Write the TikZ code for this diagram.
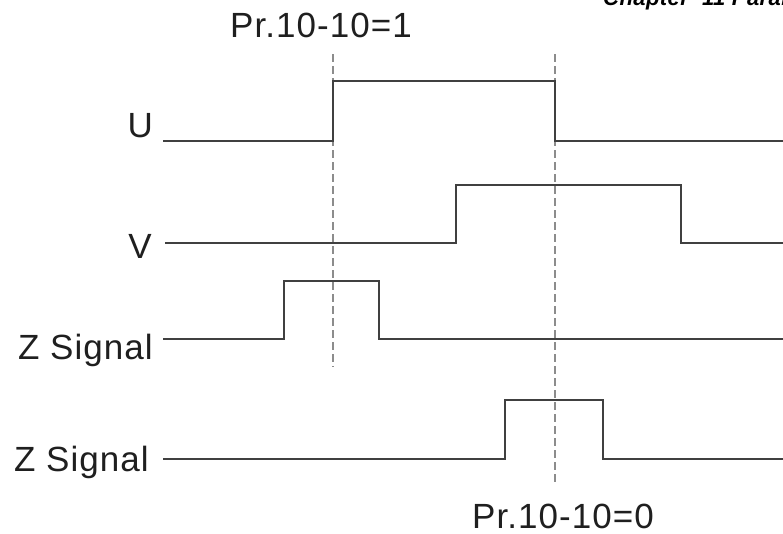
\documentclass[tikz,border=0pt]{standalone}
\usepackage{fontspec}
\setmainfont{Liberation Sans}
\newfontfamily\lblfont[LetterSpace=3]{Liberation Sans}
\newfontfamily\hdrfont[LetterSpace=2]{Liberation Sans}
\begin{document}
\begin{tikzpicture}[x=1pt,y=-1pt,
  lbl/.style={inner sep=0pt,font=\lblfont\fontsize{35}{40}\selectfont,text=black!88},
  wave/.style={draw=black!75,line width=1.4pt,line join=miter},
  guide/.style={draw=black!45,line width=1.3pt,dash pattern=on 8pt off 4pt}]
\useasboundingbox (0,0) rectangle (783,533);
\clip (0,0) rectangle (783,533);
% header (cut off at top)
\node[inner sep=0pt,anchor=base west,font=\hdrfont\bfseries\itshape\fontsize{22}{26}\selectfont] (hdr) at (603,5) {Chapter\ \ 11 Parameters};
% labels
\node[lbl,anchor=base east] (lu) at (153,137) {U};
\node[lbl,anchor=base east] (lv) at (152,258) {V};
\node[lbl,anchor=base east] (lz1) at (153,359) {Z Signal};
\node[lbl,anchor=base east] (lz2) at (149,471) {Z Signal};
\node[lbl,anchor=base west] (p1) at (230,37) {Pr.10-10=1};
\node[lbl,anchor=base west] (p0) at (472,528) {Pr.10-10=0};
% waveform coordinates
\coordinate (u0) at (163,141); \coordinate (u1) at (784,141);
\coordinate (v0) at (165,243); \coordinate (v1) at (784,243);
\coordinate (za0) at (163,339); \coordinate (za1) at (784,339);
\coordinate (zb0) at (163,459); \coordinate (zb1) at (784,459);
% dashed guides
\coordinate (g1t) at (333,54); \coordinate (g1b) at (333,367);
\coordinate (g2t) at (555,54); \coordinate (g2b) at (555,484);
\draw[guide] (g1t) -- (g1b);
\draw[guide] (g2t) -- (g2b);
% waveforms
\draw[wave] (u0) -- (333,141) -- (333,81) -- (555,81) -- (555,141) -- (u1);
\draw[wave] (v0) -- (456,243) -- (456,185) -- (681,185) -- (681,243) -- (v1);
\draw[wave] (za0) -- (284,339) -- (284,281) -- (379,281) -- (379,339) -- (za1);
\draw[wave] (zb0) -- (505,459) -- (505,400) -- (603,400) -- (603,459) -- (zb1);
\end{tikzpicture}
\end{document}
